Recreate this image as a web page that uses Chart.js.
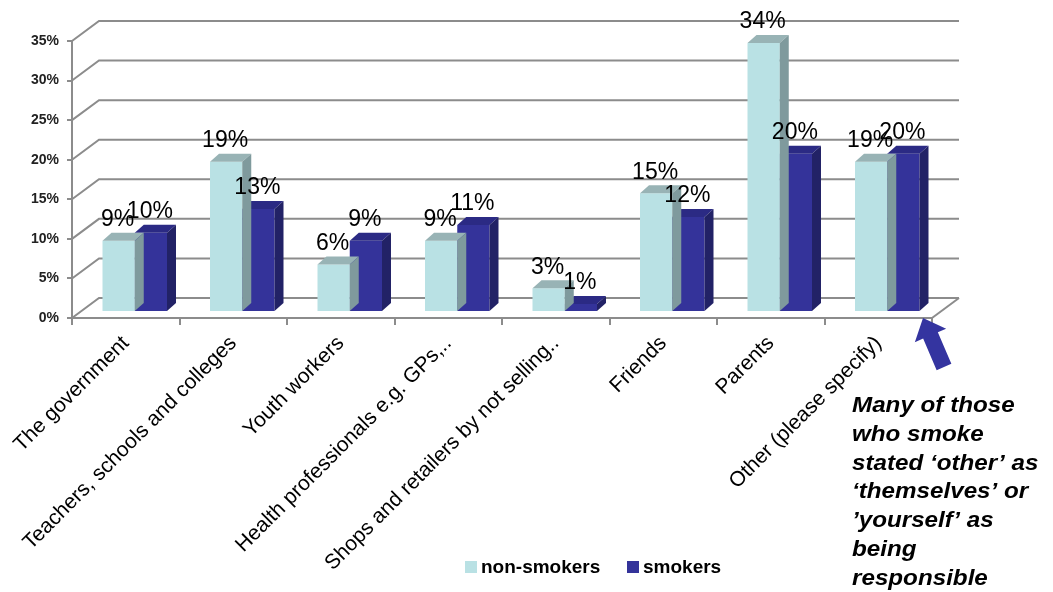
<!DOCTYPE html>
<html>
<head>
<meta charset="utf-8">
<script src="https://cdn.jsdelivr.net/npm/chart.js@4/dist/chart.umd.min.js"></script>
<style>
    html, body { margin: 0; background: #fff; }
    #wrap { width: 1053px; height: 592px; position: relative; }
</style>
</head>
<body>
<div id="wrap"><canvas id="responsibility-chart"></canvas></div>
<script>
const categories = [
    'The government',
    'Teachers, schools and colleges',
    'Youth workers',
    'Health professionals e.g. GPs,..',
    'Shops and retailers by not selling..',
    'Friends',
    'Parents',
    'Other (please specify)',
]
const nonSmokers = [9, 19, 6, 9, 3, 15, 34, 19]
const smokers = [10, 13, 9, 11, 1, 12, 20, 20]
const yTicks = [0, 5, 10, 15, 20, 25, 30, 35]
const noteLines = [
    'Many of those',
    'who smoke',
    'stated \u2018other\u2019 as',
    '\u2018themselves\u2019 or',
    '\u2019yourself\u2019 as',
    'being',
    'responsible',
]

const FONT = '"Liberation Sans", Arial, sans-serif'
const GRID = '#8c8c8c'
const WALL = { x: 27, y: 20 }   // depth of the back wall
const MID = { x: 9, y: 6 }      // bars sit half way back
const BAR = { x: 9, y: 8 }      // depth of each bar

const faces = [
    { front: '#b9e1e4', top: '#98b3b5', side: '#7f9a9d' },
    { front: '#34339a', top: '#2b2a84', side: '#222266' },
]

const depthPlugin = {
    id: 'depth',
    beforeDatasetsDraw(chart) {
        const { ctx, chartArea: a, scales: { y } } = chart
        ctx.save()
        ctx.strokeStyle = GRID
        ctx.lineWidth = 2
        yTicks.forEach(v => {
            const py = y.getPixelForValue(v)
            ctx.beginPath()
            ctx.moveTo(a.left, py)
            ctx.lineTo(a.left + WALL.x, py - WALL.y)
            ctx.lineTo(a.right + WALL.x, py - WALL.y)
            ctx.stroke()
        })
        ctx.beginPath()
        ctx.moveTo(a.right, a.bottom)
        ctx.lineTo(a.right + WALL.x, a.bottom - WALL.y)
        ctx.stroke()
        ctx.restore()

        ctx.save()
        ctx.translate(MID.x, -MID.y)
    },
    afterDatasetDraw(chart, args) {
        const { ctx } = chart
        const c = faces[args.index]
        args.meta.data.forEach(bar => {
            const x0 = bar.x - bar.width / 2
            const x1 = bar.x + bar.width / 2
            const top = bar.y
            const base = bar.base
            ctx.fillStyle = c.top
            ctx.beginPath()
            ctx.moveTo(x0, top)
            ctx.lineTo(x1, top)
            ctx.lineTo(x1 + BAR.x, top - BAR.y)
            ctx.lineTo(x0 + BAR.x, top - BAR.y)
            ctx.closePath()
            ctx.fill()
            ctx.fillStyle = c.side
            ctx.beginPath()
            ctx.moveTo(x1, top)
            ctx.lineTo(x1 + BAR.x, top - BAR.y)
            ctx.lineTo(x1 + BAR.x, base - BAR.y)
            ctx.lineTo(x1, base)
            ctx.closePath()
            ctx.fill()
        })
    },
    afterDatasetsDraw(chart) {
        const { ctx } = chart
        // value labels, still in the shifted space
        ctx.fillStyle = '#000'
        ctx.font = '23px ' + FONT
        ctx.textAlign = 'center'
        ctx.textBaseline = 'middle'
        chart.data.datasets.forEach((ds, i) => {
            chart.getDatasetMeta(i).data.forEach((bar, j) => {
                ctx.fillText(ds.data[j] + '%', bar.x - 1, bar.y - 21)
            })
        })
        ctx.restore()
    },
    afterDraw(chart) {
        const { ctx } = chart
        ctx.save()

        // legend
        ctx.font = 'bold 19px ' + FONT
        ctx.textBaseline = 'alphabetic'
        let lx = 465
        chart.data.datasets.forEach((ds, i) => {
            ctx.fillStyle = faces[i].front
            ctx.fillRect(lx, 561, 12, 12)
            ctx.fillStyle = '#000'
            ctx.fillText(ds.label, lx + 16, 573)
            lx += 162
        })

        // side note
        ctx.save()
        ctx.translate(852, 0)
        ctx.scale(1.1, 1)
        ctx.font = 'italic bold 22px ' + FONT
        noteLines.forEach((line, i) => ctx.fillText(line, 0, 412 + 28.8 * i))
        ctx.restore()

        // arrow pointing at the last category
        const tip = { x: 923, y: 318 }
        const tail = { x: 944, y: 367 }
        const len = Math.hypot(tail.x - tip.x, tail.y - tip.y)
        const ux = (tip.x - tail.x) / len
        const uy = (tip.y - tail.y) / len
        const nx = -uy
        const ny = ux
        const head = 19, hw = 17, sw = 8
        const hx = tip.x - ux * head
        const hy = tip.y - uy * head
        ctx.fillStyle = '#3434a0'
        ctx.beginPath()
        ctx.moveTo(tip.x, tip.y)
        ctx.lineTo(hx + nx * hw, hy + ny * hw)
        ctx.lineTo(hx + nx * sw, hy + ny * sw)
        ctx.lineTo(tail.x + nx * sw, tail.y + ny * sw)
        ctx.lineTo(tail.x - nx * sw, tail.y - ny * sw)
        ctx.lineTo(hx - nx * sw, hy - ny * sw)
        ctx.lineTo(hx - nx * hw, hy - ny * hw)
        ctx.closePath()
        ctx.fill()
        ctx.restore()
    },
}

const responsibility_chart = () => {
    const ctx = document.getElementById('responsibility-chart')

    new Chart(ctx, {
        type: 'bar',
        data: {
            labels: categories,
            datasets: [{
                label: 'non-smokers',
                data: nonSmokers,
                backgroundColor: faces[0].front,
                categoryPercentage: 0.6,
                barPercentage: 1,
                clip: false,
            }, {
                label: 'smokers',
                data: smokers,
                backgroundColor: faces[1].front,
                categoryPercentage: 0.6,
                barPercentage: 1,
                clip: false,
            }],
        },
        options: {
            responsive: true,
            maintainAspectRatio: false,
            animation: false,
            layout: { padding: { left: 0, right: 121, top: 41, bottom: 0 } },
            plugins: {
                legend: { display: false },
                tooltip: { enabled: false },
            },
            scales: {
                x: {
                    afterFit: scale => { scale.height = 274 },
                    grid: { drawOnChartArea: false, color: GRID, lineWidth: 2, tickLength: 7 },
                    border: { color: GRID, width: 2 },
                    ticks: {
                        color: '#000',
                        font: { family: FONT, size: 21 },
                        minRotation: 45,
                        maxRotation: 45,
                        autoSkip: false,
                        padding: 6,
                    },
                },
                y: {
                    min: 0,
                    max: 35,
                    afterFit: scale => { scale.width = 72 },
                    afterBuildTicks: scale => { scale.ticks = yTicks.map(v => ({ value: v })) },
                    grid: { drawOnChartArea: false, color: GRID, lineWidth: 2, tickLength: 5 },
                    border: { color: GRID, width: 2 },
                    ticks: {
                        color: '#222',
                        font: { family: FONT, size: 14, weight: 'bold' },
                        padding: 8,
                        callback: v => v + '%',
                    },
                },
            },
        },
        plugins: [depthPlugin],
    })
}

responsibility_chart()
</script>
</body>
</html>
